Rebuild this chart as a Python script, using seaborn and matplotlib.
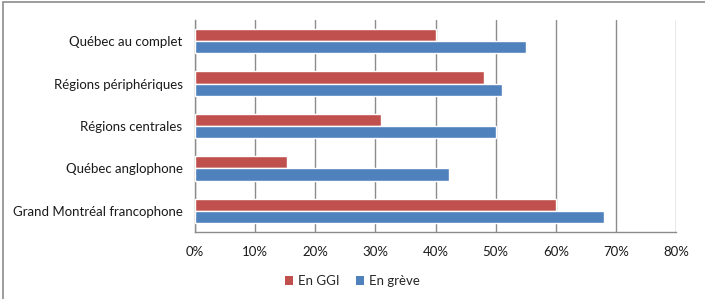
import pandas as pd
import numpy as np
import matplotlib
matplotlib.use('Agg')
import matplotlib.pyplot as plt
import seaborn as sns
from matplotlib.patches import Patch, Rectangle

# Données
regions = ['Québec au complet', 'Régions périphériques', 'Régions centrales',
           'Québec anglophone', 'Grand Montréal francophone']
en_ggi = [40.0, 48.0, 31.0, 15.3, 60.0]
en_greve = [55.0, 51.0, 50.0, 42.3, 68.0]
series = ['En GGI', 'En grève']
couleurs = ['#C0504D', '#4F81BD']

data = pd.DataFrame({
    'region': regions * 2,
    'serie': [series[0]] * 5 + [series[1]] * 5,
    'valeur': en_ggi + en_greve,
})

sns.set_style('white')
plt.rcParams['font.family'] = ['Lato', 'DejaVu Sans']

fig = plt.figure(figsize=(7.05, 2.99), dpi=100)
ax = fig.add_axes([195 / 705, 1 - 232 / 299, (676 - 195) / 705, (232 - 20) / 299])

sns.barplot(data=data, y='region', x='valeur', hue='serie', order=regions,
            hue_order=series, palette=couleurs, orient='h', width=0.572,
            saturation=1, ax=ax, legend=False, zorder=3)

ax.set_xlim(0, 80)
ax.set_ylim(4.5, -0.5)
ax.set_xticks(np.arange(0, 81, 10))
ax.set_xticklabels([f'{v}%' for v in range(0, 81, 10)])
ax.set_xlabel('')
ax.set_ylabel('')

# Grille et axes
ax.grid(axis='x', color='#8C8C8C', linewidth=1, zorder=0)
ax.grid(axis='y', visible=False)
for s in ['top', 'right']:
    ax.spines[s].set_visible(False)
for s in ['left', 'bottom']:
    ax.spines[s].set_color('#8C8C8C')
    ax.spines[s].set_linewidth(1)

ax.set_yticks(np.arange(-0.5, 5, 1), minor=True)
ax.tick_params(axis='y', which='major', length=0, pad=9, labelsize=9.5, labelcolor='#1a1a1a')
ax.tick_params(axis='y', which='minor', length=5, color='#8C8C8C', direction='out')
ax.tick_params(axis='x', which='major', length=5, color='#8C8C8C', direction='out',
               pad=5, labelsize=9.5, labelcolor='#1a1a1a')

# Légende
handles = [Patch(facecolor=c, edgecolor='none') for c in couleurs]
fig.legend(handles, series, loc='center', bbox_to_anchor=(0.5, 1 - 281 / 299), ncol=2,
           frameon=False, fontsize=9.5, handlelength=0.6, handleheight=0.6,
           handletextpad=0.4, columnspacing=1.2)

# Cadre extérieur
fig.patches.append(Rectangle((3 / 705, -0.1), 1.2, 1 - 2 / 299 + 0.1, transform=fig.transFigure,
                             fill=False, edgecolor='#8C8C8C', linewidth=1.2))

fig.savefig('out.png', dpi=100)
